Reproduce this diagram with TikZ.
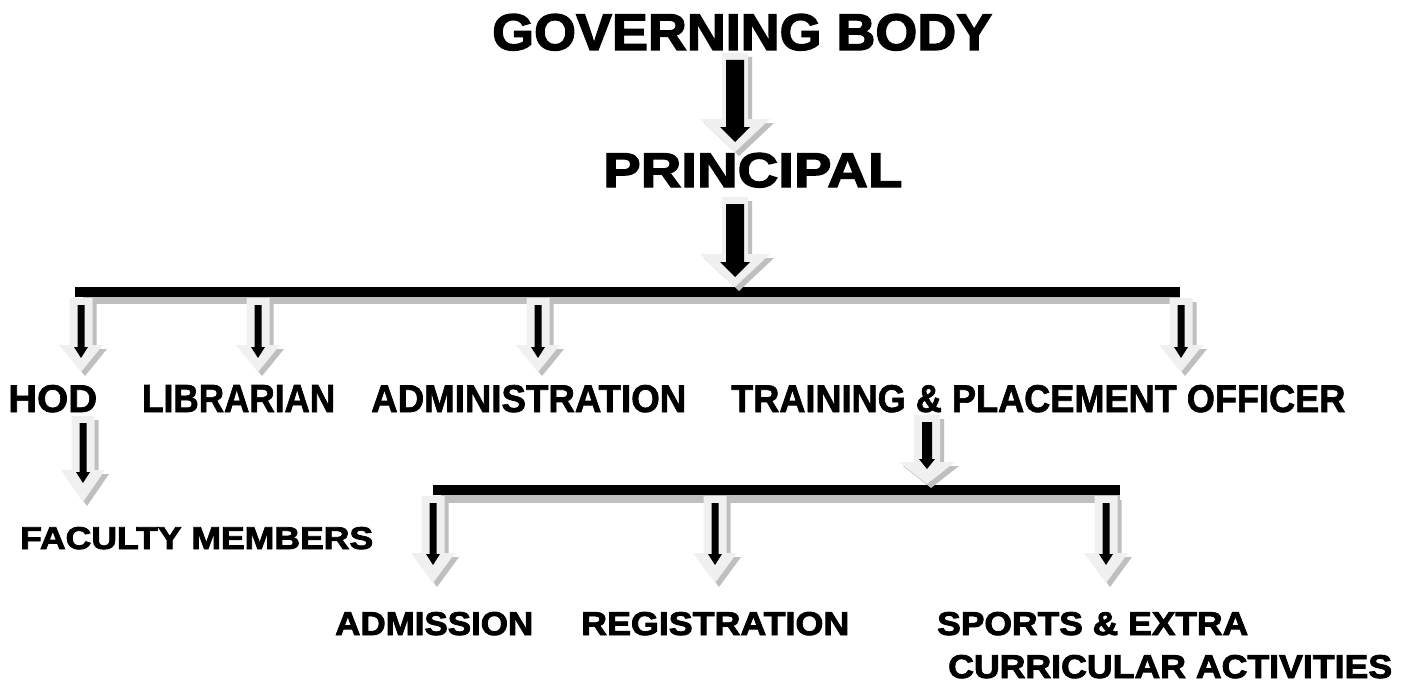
\documentclass[tikz,border=0pt]{standalone}
\usepackage{fontspec}
\setmainfont{Liberation Sans}
\newfontfamily\heavy[FakeBold=2.5]{Liberation Sans}
\newfontfamily\heavyn[FakeBold=1.8]{Liberation Sans}
\usepackage{graphicx}
\definecolor{arlight}{gray}{0.94}
\definecolor{arshadow}{gray}{0.75}
\newdimen\arXa \newdimen\arYa \newdimen\arYb
\pgfkeys{/ar/.cd,
  sw/.store in=\arSW, hw/.store in=\arHW, hl/.store in=\arHL,
  bw/.store in=\arBW, bhw/.store in=\arBHW, bhl/.store in=\arBHL,
  bt/.store in=\arBT, bp/.store in=\arBP, sh/.store in=\arSH}
% #1 style, #2 dx, #3 dy, #4 shaft half width, #5 head half width, #6 head length, #7 top offset, #8 tip offset
\newcommand\arshape[8][]{%
  \fill[#1, shift={(#2pt,#3pt)}]
    ({\arXa-#4pt},{\arYa-#7pt}) -- ({\arXa+#4pt},{\arYa-#7pt})
    -- ({\arXa+#4pt},{\arYb+#8pt+#6pt}) -- ({\arXa+#5pt},{\arYb+#8pt+#6pt})
    -- ({\arXa},{\arYb+#8pt}) -- ({\arXa-#5pt},{\arYb+#8pt+#6pt})
    -- ({\arXa-#4pt},{\arYb+#8pt+#6pt}) -- cycle;}
\newcommand\barrow[3][]{%
  \pgfkeys{/ar/.cd, sw=11.5, hw=22, hl=27, bw=3.5, bhw=7, bhl=11, bt=7, bp=14, sh=4, #1}%
  \pgfextractx{\arXa}{\pgfpointanchor{#2}{center}}%
  \pgfextracty{\arYa}{\pgfpointanchor{#2}{center}}%
  \pgfextracty{\arYb}{\pgfpointanchor{#3}{center}}%
  \arshape[arshadow]{\arSH}{-\arSH}{\arSW}{\arHW}{\arHL}{0}{0}%
  \arshape[arlight]{0}{0}{\arSW}{\arHW}{\arHL}{0}{0}%
  \arshape[black]{0}{0}{\arBW}{\arBHW}{\arBHL}{\arBT}{\arBP}%
}
\newcommand\lbl[3]{\resizebox{#1pt}{#2pt}{\heavy\bfseries #3}}
\newcommand\lbn[3]{\resizebox{#1pt}{#2pt}{\heavyn\bfseries #3}}
\tikzset{txt/.style={anchor=base west, inner sep=0pt}}
\begin{document}
\begin{tikzpicture}[x=1pt,y=-1pt]
\useasboundingbox[fill=white] (0,0) rectangle (1408,685);
% labels
\node[txt] (gb)  at (492,50)  {\lbl{500}{36}{GOVERNING BODY}};
\node[txt] (pr)  at (603,187) {\lbl{299}{34}{PRINCIPAL}};
\node[txt] (hod) at (8,412)   {\lbn{89}{27}{HOD}};
\node[txt] (lib) at (142,412) {\lbn{193}{27}{LIBRARIAN}};
\node[txt] (adm) at (371,412) {\lbn{315}{27}{ADMINISTRATION}};
\node[txt] (tpo) at (731,412) {\lbn{614}{27}{TRAINING \& PLACEMENT OFFICER}};
\node[txt] (fac) at (20,549)  {\lbl{353}{22}{FACULTY MEMBERS}};
\node[txt] (ads) at (335,635) {\lbl{198}{23}{ADMISSION}};
\node[txt] (reg) at (581,635) {\lbl{268}{23}{REGISTRATION}};
\node[txt] (spo) at (937,635) {\lbl{311}{23}{SPORTS \& EXTRA}};
\node[txt] (cur) at (948,678) {\lbl{444}{23}{CURRICULAR ACTIVITIES}};
% bars
\fill[arshadow] (83,297) rectangle (1180,304);
\fill[black] (75,287) rectangle (1180,297);
\fill[arshadow] (441,495) rectangle (1120,503);
\fill[black] (433,485) rectangle (1120,495);
% arrow end points
\coordinate (a1s) at (735,53);  \coordinate (a1e) at (735,152);
\coordinate (a2s) at (735,197); \coordinate (a2e) at (735,287);
\coordinate (b1s) at (81,298);  \coordinate (b1e) at (81,372);
\coordinate (b2s) at (258,298); \coordinate (b2e) at (258,372);
\coordinate (b3s) at (538,298); \coordinate (b3e) at (538,372);
\coordinate (b4s) at (1181,298);\coordinate (b4e) at (1181,372);
\coordinate (hfs) at (83,416);  \coordinate (hfe) at (83,502);
\coordinate (tps) at (927,415); \coordinate (tpe) at (927,484);
\coordinate (c1s) at (433,496); \coordinate (c1e) at (433,583);
\coordinate (c2s) at (715,496); \coordinate (c2e) at (715,583);
\coordinate (c3s) at (1106,496);\coordinate (c3e) at (1106,583);
% arrows
\barrow[sw=13, hw=35, hl=33, bw=9, bhw=15, bhl=15, bt=7, bp=10]{a1s}{a1e}
\barrow[sw=13, hw=35, hl=33, bw=9, bhw=15, bhl=15, bt=7, bp=10]{a2s}{a2e}
\barrow{b1s}{b1e}
\barrow{b2s}{b2e}
\barrow{b3s}{b3e}
\barrow{b4s}{b4e}
\barrow[hl=32, bp=19]{hfs}{hfe}
\barrow[sw=13, hw=28, hl=22, bw=5, bhw=8, bhl=10, bp=15]{tps}{tpe}
\barrow[hl=30, bp=18]{c1s}{c1e}
\barrow[hl=30, bp=18]{c2s}{c2e}
\barrow[hl=30, bp=18]{c3s}{c3e}
\end{tikzpicture}
\end{document}
